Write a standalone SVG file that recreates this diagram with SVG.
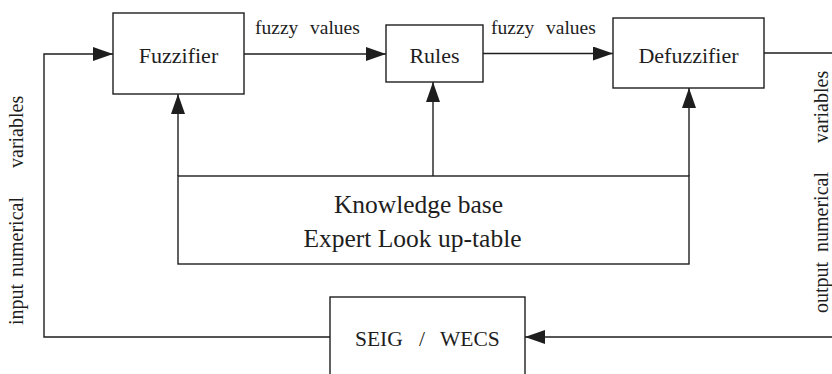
<svg xmlns="http://www.w3.org/2000/svg" width="832" height="374" viewBox="0 0 832 374" font-family="Liberation Serif, Tinos, Times New Roman, DejaVu Serif, serif">
  <style>
    .box { fill: #fff; stroke: #1e1e1e; stroke-width: 1.4; }
    .wire { fill: none; stroke: #1e1e1e; stroke-width: 1.4; }
    text { font-family: 'Liberation Serif', Tinos, 'Times New Roman', 'DejaVu Serif', serif; fill: #1e1e1e; }
    .blk { font-size: 22px; text-anchor: middle; }
    .kb { font-size: 25.5px; text-anchor: middle; }
    .lbl { font-size: 19.5px; }
    .side { font-size: 20px; }
    .plant { font-size: 21.5px; }
  </style>
  <defs>
    <marker id="arrow" viewBox="0 0 20 14" refX="20" refY="7" markerWidth="20" markerHeight="14" markerUnits="userSpaceOnUse" orient="auto">
      <path d="M0,0 L20,7 L0,14 Z" fill="#1e1e1e"/>
    </marker>
  </defs>

  <rect width="832" height="374" fill="#fff"/>

  <g id="connectors">
    <!-- feedback input into the fuzzifier -->
    <path class="wire" d="M330,337 H44 V54 H113" marker-end="url(#arrow)"/>
    <!-- forward chain -->
    <path class="wire" d="M244,54 H386" marker-end="url(#arrow)"/>
    <path class="wire" d="M483,53.5 H613" marker-end="url(#arrow)"/>
    <!-- plant output loop -->
    <path class="wire" d="M764,53 H832"/>
    <path class="wire" d="M832,337 H525" marker-end="url(#arrow)"/>
    <!-- knowledge base feeds -->
    <path class="wire" d="M178,176 V94" marker-end="url(#arrow)"/>
    <path class="wire" d="M433,176 V82" marker-end="url(#arrow)"/>
    <path class="wire" d="M689,176 V88" marker-end="url(#arrow)"/>
  </g>

  <g id="fuzzifier">
    <rect class="box" x="113" y="13" width="131" height="81"/>
    <text class="blk" x="178.5" y="63">Fuzzifier</text>
  </g>

  <g id="rules">
    <rect class="box" x="386" y="25" width="97" height="57"/>
    <text class="blk" x="434.5" y="63">Rules</text>
  </g>

  <g id="defuzzifier">
    <rect class="box" x="613" y="18" width="151" height="70"/>
    <text class="blk" x="688.5" y="63">Defuzzifier</text>
  </g>

  <g id="knowledge-base">
    <rect class="box" x="178" y="176" width="511" height="88"/>
    <text class="kb" x="418.5" y="213">Knowledge base</text>
    <text class="kb" x="412.5" y="247">Expert Look up-table</text>
  </g>

  <g id="seig-wecs">
    <rect class="box" x="330" y="297" width="195" height="90"/>
    <text class="plant" x="355" y="346">SEIG</text>
    <text class="plant" x="419" y="346">/</text>
    <text class="plant" x="440" y="346">WECS</text>
  </g>

  <g id="labels">
    <text class="lbl" x="255" y="34">fuzzy</text>
    <text class="lbl" x="310" y="34">values</text>
    <text class="lbl" x="491" y="34">fuzzy</text>
    <text class="lbl" x="546" y="34">values</text>

    <g transform="translate(23 0) rotate(-90)">
      <text class="side" x="-325" y="0">input</text>
      <text class="side" x="-277" y="0">numerical</text>
      <text class="side" x="-168" y="0">variables</text>
    </g>
    <g transform="translate(828 0) rotate(-90)">
      <text class="side" x="-313" y="0">output</text>
      <text class="side" x="-252" y="0">numerical</text>
      <text class="side" x="-143" y="0">variables</text>
    </g>
  </g>
</svg>
